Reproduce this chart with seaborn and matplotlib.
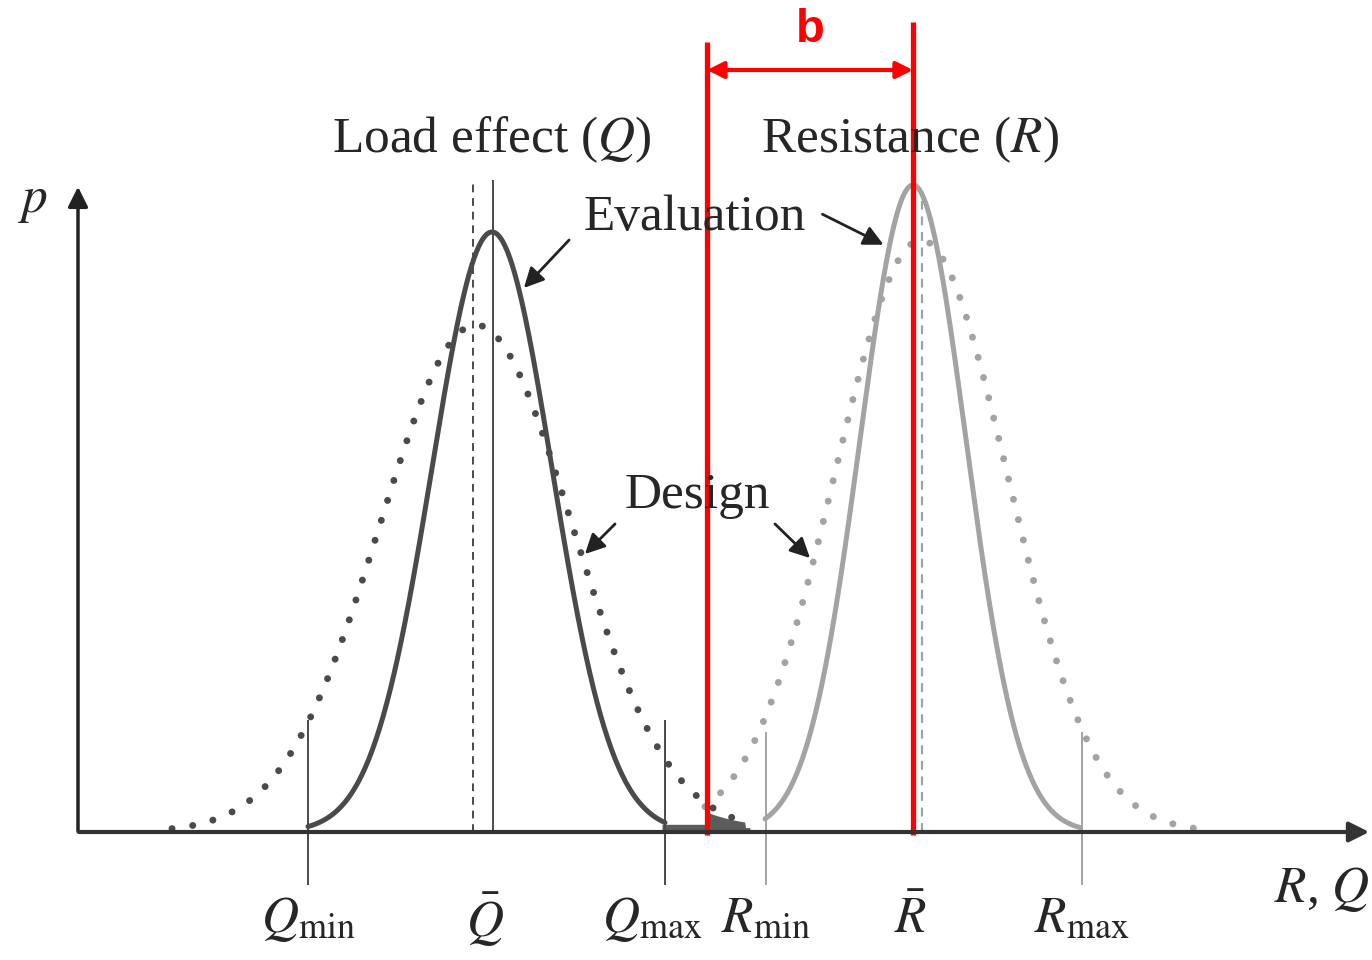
import numpy as np
import pandas as pd
import matplotlib.pyplot as plt
import seaborn as sns

# Bell curves: x position (px from left), height above the baseline (px)
curve_names = ["Q evaluation", "Q design", "R evaluation", "R design"]
curve_means = [492, 476, 913, 921]
curve_sds = [60, 96, 53, 86]
curve_peaks = [600, 507, 647, 592]
curve_starts = [308, 172, 765, 705]
curve_ends = [665, 745, 1080, 1195]

# Bottom labels and their marker lines
tick_labels = [r"$Q_{\mathrm{min}}$", r"$\bar{Q}$", r"$Q_{\mathrm{max}}$",
               r"$R_{\mathrm{min}}$", r"$\bar{R}$", r"$R_{\mathrm{max}}$"]
tick_x = [308, 485, 652, 766, 910, 1082]
marker_x = [308, 665, 766, 1082]
marker_top = [112, 112, 100, 100]

# Mean lines (solid = evaluation, dashed = design)
q_eval_mean, q_design_mean = 493, 473
r_design_mean = 922

# Red overlay: band b between two verticals
b_left, b_right = 707, 913

rows = []
for name, m, s, pk, x0, x1 in zip(curve_names, curve_means, curve_sds, curve_peaks,
                                   curve_starts, curve_ends):
    xs = np.linspace(x0, x1, 300)
    for x in xs:
        rows.append({"curve": name, "x": x, "p": pk * np.exp(-(x - m) ** 2 / (2 * s ** 2))})
df = pd.DataFrame(rows)

sns.set_theme(style="white")
plt.rcParams["font.family"] = ["Liberation Serif", "DejaVu Serif"]
plt.rcParams["mathtext.fontset"] = "stix"

fig = plt.figure(figsize=(13.72, 9.6), dpi=100)
ax = fig.add_axes([0, 0, 1, 1])
ax.set_xlim(0, 1372)
ax.set_ylim(-128, 832)
ax.axis("off")

dark, light = "#4a4a4a", "#a3a3a3"
styles = {
    "Q evaluation": dict(color=dark, lw=3.6),
    "R evaluation": dict(color=light, lw=3.6),
}
for name in ["Q design", "R design"]:
    sub = df[df.curve == name]
    col = dark if name.startswith("Q") else light
    sns.lineplot(data=sub, x="x", y="p", ax=ax, color=col, lw=5,
                 linestyle=(0, (0.01, 3.0)), dash_capstyle="round", legend=False)
for name in ["Q evaluation", "R evaluation"]:
    sub = df[df.curve == name]
    sns.lineplot(data=sub, x="x", y="p", ax=ax, legend=False, **styles[name])

# small overlap region near the baseline (under both design curves)
qd = df[df.curve == "Q design"]
rd = df[df.curve == "R design"]
xs = np.linspace(662, 750, 100)
q_y = np.interp(xs, qd.x, qd.p, right=0)
r_y = np.interp(xs, rd.x, rd.p, left=0)
overlap = np.maximum(np.minimum(q_y + 8, r_y + 14) * 0.55, 0)
ax.fill_between(xs, 0, overlap, color=dark, lw=0, alpha=0.9)

# mean lines
ax.vlines(q_eval_mean, 0, 652, color=dark, lw=1.4)
ax.vlines(q_design_mean, 0, 652, color=dark, lw=1.4, linestyles=(0, (4, 3)))
ax.vlines(r_design_mean, 0, 632, color=light, lw=1.6, linestyles=(0, (4, 3)))

# marker lines for min/max
for x, top, c in zip(marker_x, marker_top, [dark, dark, light, light]):
    ax.vlines(x, -53, top, color=c, lw=1.4)

# axes with arrows
ax.annotate("", xy=(78, 648), xytext=(78, -2),
            arrowprops=dict(arrowstyle="-|>", color="#222222", lw=2.5, mutation_scale=30))
ax.annotate("", xy=(1372, 0), xytext=(76, 0),
            arrowprops=dict(arrowstyle="-|>", color="#333333", lw=3, mutation_scale=30))

# texts
fs = 37
ax.text(33, 630, "$p$", fontsize=fs, ha="center", va="center")
ax.text(492, 692, "Load effect ($Q$)", fontsize=fs, ha="center", va="center")
ax.text(910, 692, "Resistance ($R$)", fontsize=fs, ha="center", va="center")
ax.text(695, 614, "Evaluation", fontsize=fs, ha="center", va="center")
ax.text(697, 336, "Design", fontsize=fs, ha="center", va="center")
ax.text(1322, -58, "$R$, $Q$", fontsize=fs, ha="center", va="center")
for lab, x in zip(tick_labels, tick_x):
    ax.text(x, -88, lab, fontsize=fs, ha="center", va="center")

arrow_kw = dict(arrowstyle="-|>", color="#222222", lw=2, mutation_scale=30)
ax.annotate("", xy=(522, 542), xytext=(571, 594), arrowprops=arrow_kw)
ax.annotate("", xy=(886, 586), xytext=(820, 619), arrowprops=arrow_kw)
ax.annotate("", xy=(583, 276), xytext=(617, 310), arrowprops=arrow_kw)
ax.annotate("", xy=(812, 272), xytext=(773, 310), arrowprops=arrow_kw)

# red annotation
ax.vlines(b_left, -3, 790, color="red", lw=3.8)
ax.vlines(b_right, -3, 810, color="red", lw=3.8)
ax.annotate("", xy=(b_right, 762), xytext=(b_left, 762),
            arrowprops=dict(arrowstyle="<|-|>", color="red", lw=3, mutation_scale=25,
                            shrinkA=0, shrinkB=0))
ax.text((b_left + b_right) / 2, 802, "b", fontsize=34, fontweight="bold", color="red",
        family="Liberation Sans", ha="center", va="center")

fig.savefig("out.png", dpi=100, facecolor="white")
